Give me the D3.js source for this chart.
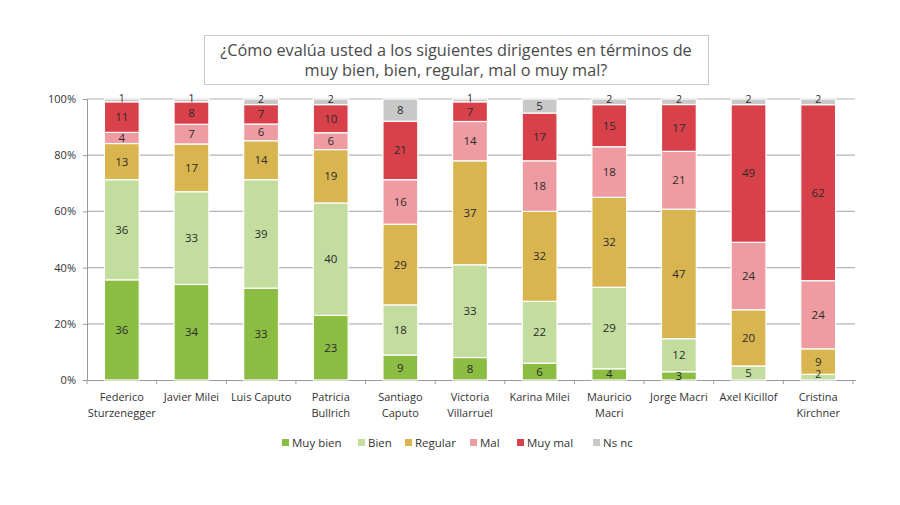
<!DOCTYPE html>
<html><head><meta charset="utf-8">
<script src="https://cdn.jsdelivr.net/npm/d3@7/dist/d3.min.js"></script>
<style>body{margin:0;background:#fff;} svg{display:block;font-family:"Open Sans",sans-serif;}</style>
</head><body>
<svg id="chart" width="900" height="505"></svg>
<script>
const categories = [
  ["Federico","Sturzenegger"],["Javier Milei"],["Luis Caputo"],["Patricia","Bullrich"],
  ["Santiago","Caputo"],["Victoria","Villarruel"],["Karina Milei"],["Mauricio","Macri"],
  ["Jorge Macri"],["Axel Kicillof"],["Cristina","Kirchner"]
];
const seriesNames = ["Muy bien","Bien","Regular","Mal","Muy mal","Ns nc"];
const muyBien = [36,34,33,23,9,8,6,4,3,0,0];
const bien    = [36,33,39,40,18,33,22,29,12,5,2];
const regular = [13,17,14,19,29,37,32,32,47,20,9];
const mal     = [4,7,6,6,16,14,18,18,21,24,24];
const muyMal  = [11,8,7,10,21,7,17,15,17,49,62];
const nsnc    = [1,1,2,2,8,1,5,2,2,2,2];
const yTicks = [0,0.2,0.4,0.6,0.8,1];
const colors = ["#8cbd43","#c3dd9f","#d9b550","#ee9ca2","#d8414a","#c8c8c8"];

const seriesVals = [muyBien,bien,regular,mal,muyMal,nsnc];
const data = categories.map((c,i)=>{
  const o = {key:i};
  seriesNames.forEach((s,j)=>o[s]=seriesVals[j][i]);
  return o;
});

const svg = d3.select("#chart");
const m = {l:87, r:853, t:99, b:380};
const x = d3.scaleBand().domain(d3.range(categories.length)).range([m.l,m.r]).paddingInner(0.5).paddingOuter(0.25);
const y = d3.scaleLinear().domain([0,1]).range([m.b,m.t]);

// title box
svg.append("rect").attr("x",204.5).attr("y",35.5).attr("width",504).attr("height",49)
  .attr("fill","#fff").attr("stroke","#c8c8c8");
svg.append("text").attr("x",456).attr("y",56).attr("text-anchor","middle").attr("font-size",16.3).attr("fill","#4a4a4a")
  .text("¿Cómo evalúa usted a los siguientes dirigentes en términos de");
svg.append("text").attr("x",456).attr("y",76).attr("text-anchor","middle").attr("font-size",16.3).attr("fill","#4a4a4a")
  .text("muy bien, bien, regular, mal o muy mal?");

// grid
svg.append("g").selectAll("line").data(yTicks.filter(d=>d>0)).join("line")
  .attr("x1",m.l).attr("x2",m.r+2).attr("y1",d=>y(d)).attr("y2",d=>y(d))
  .attr("stroke","#b4b4b4").attr("stroke-width",1.2);

// y axis
const ya = svg.append("g").attr("transform",`translate(${m.l},0)`)
  .call(d3.axisLeft(y).tickValues(yTicks).tickFormat(d3.format(".0%")).tickSize(4).tickPadding(7));
ya.select(".domain").attr("stroke","#999");
ya.selectAll(".tick line").attr("stroke","#999");
ya.selectAll("text").attr("font-size",11).attr("fill","#333").attr("font-family","Open Sans, sans-serif");

// x axis line + category ticks
svg.append("line").attr("x1",m.l).attr("x2",m.r+3).attr("y1",m.b+0.5).attr("y2",m.b+0.5).attr("stroke","#999");
svg.append("g").selectAll("line").data(d3.range(categories.length+1)).join("line")
  .attr("x1",i=>m.l+i*(m.r-m.l)/categories.length).attr("x2",i=>m.l+i*(m.r-m.l)/categories.length)
  .attr("y1",m.b).attr("y2",m.b+4).attr("stroke","#999");

// stacks
const stack = d3.stack().keys(seriesNames).offset(d3.stackOffsetExpand);
const layers = stack(data);
const g = svg.append("g");
layers.forEach((layer,j)=>{
  g.append("g").selectAll("rect").data(layer).join("rect")
    .attr("x",(d,i)=>x(i)).attr("width",x.bandwidth())
    .attr("y",d=>y(d[1])).attr("height",d=>Math.max(0,y(d[0])-y(d[1])))
    .attr("fill",colors[j]).attr("stroke","#fff").attr("stroke-width",1.2);
});
const lab = svg.append("g");
layers.forEach((layer,j)=>{
  layer.forEach(d=>{
    const v = d.data[seriesNames[j]];
    if (!(v>0)) return;
    const small = v<=2;
    lab.append("text")
      .attr("x",x(d.data.key)+x.bandwidth()/2)
      .attr("y",(y(d[0])+y(d[1]))/2 - (small?2.5:0))
      .attr("dy","0.35em").attr("text-anchor","middle").attr("font-size",small?10.5:11.5)
      .attr("fill","#2b2b2b").text(v);
  });
});

const xl = svg.append("g");
categories.forEach((c,i)=>{
  const cx = x(i)+x.bandwidth()/2;
  const t = xl.append("text").attr("x",cx).attr("y",401).attr("text-anchor","middle")
    .attr("font-size",11).attr("fill","#333");
  c.forEach((line,k)=>t.append("tspan").attr("x",cx).attr("dy",k?16:0).text(line));
});

// legend
const legX = [282,358,405,470,517,593];
const lg = svg.append("g");
seriesNames.forEach((s,j)=>{
  lg.append("rect").attr("x",legX[j]).attr("y",439).attr("width",7).attr("height",7).attr("fill",colors[j]);
  lg.append("text").attr("x",legX[j]+10).attr("y",443).attr("dy","0.36em").attr("font-size",11.5).attr("fill","#333").text(s);
});
</script>
</body></html>
